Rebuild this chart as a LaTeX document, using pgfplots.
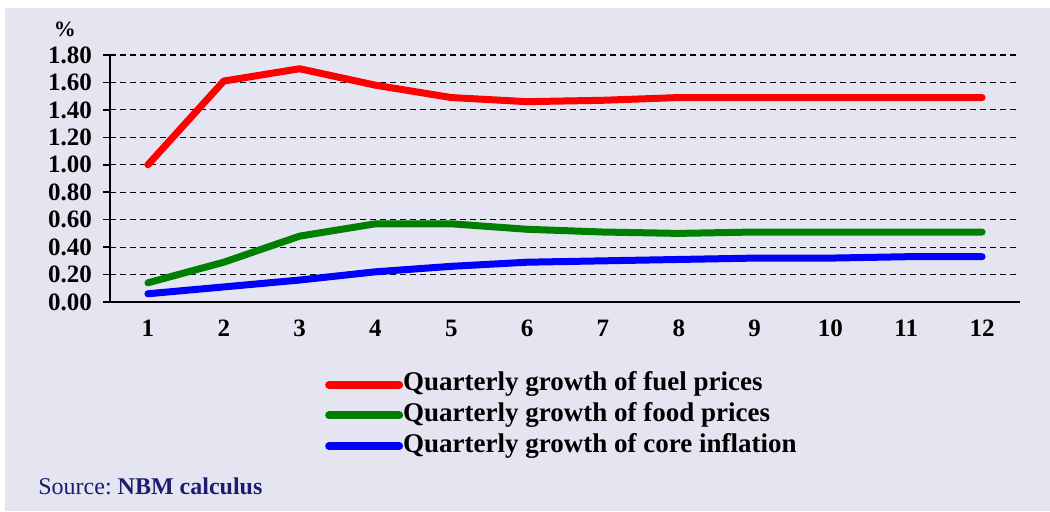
\documentclass[border=0pt]{standalone}
\usepackage{pgfplots}
\pgfplotsset{compat=1.18}
\usepackage{fontspec}
\setmainfont{Liberation Serif}
\definecolor{lav}{HTML}{E5E5F1}
\definecolor{navy}{HTML}{1C1C70}
\definecolor{fuel}{HTML}{FF0000}
\definecolor{food}{HTML}{008000}
\definecolor{core}{HTML}{0000FF}
\begin{document}
\begin{tikzpicture}[x=1pt,y=1pt]
\fill[white] (0,0) rectangle (525,255.5);
\fill[lav] (2.5,0) rectangle (525,251.5);
\begin{axis}[
  at={(55pt,104.5pt)}, anchor=south west,
  scale only axis, width=455pt, height=123.5pt,
  xmin=0.5, xmax=12.5, ymin=0, ymax=1.8,
  axis x line*=bottom, axis y line*=left,
  axis line style={-, black, line width=0.8pt},
  xtick={1,...,12},
  minor xtick={0.5,1.5,...,12.5},
  ytick={0,0.2,...,1.8},
  major tick length=3.5pt, minor tick length=3.5pt,
  tick align=outside,
  xtick style={draw=none},
  minor x tick style={black, line width=0.8pt},
  ytick style={black, line width=0.8pt},
  ymajorgrids, grid style={black, dashed, line width=0.6pt, dash pattern=on 3pt off 2pt},
  /pgf/number format/assume math mode=true,
  yticklabel style={/pgf/number format/fixed, /pgf/number format/precision=2, /pgf/number format/zerofill, xshift=-2pt},
  ticklabel style={font=\bfseries\fontsize{12.5}{15}\selectfont},
  xticklabel style={yshift=-2pt},
  clip=false,
  legend style={draw=none, fill=none, at={(0.236,-0.285)}, anchor=north west,
    inner sep=0pt, row sep=3.3pt, font=\bfseries\fontsize{13.5}{15}\selectfont,
    nodes={inner sep=0pt, text height=9pt, text depth=3pt},
    /tikz/every even column/.append style={column sep=0pt},
    cells={anchor=west}},
  legend cell align=left,
  legend image code/.code={\draw[#1, line width=4pt, line cap=round] (2pt,0pt) -- (37pt,0pt);},
]
\addplot[fuel, line width=3.5pt, line cap=round, line join=round] coordinates {
(1,1.00) (2,1.61) (3,1.70) (4,1.58) (5,1.49) (6,1.46) (7,1.47) (8,1.49) (9,1.49) (10,1.49) (11,1.49) (12,1.49)};
\addlegendentry{Quarterly growth of fuel prices}
\addplot[food, line width=3.5pt, line cap=round, line join=round] coordinates {
(1,0.14) (2,0.29) (3,0.48) (4,0.57) (5,0.57) (6,0.53) (7,0.51) (8,0.50) (9,0.51) (10,0.51) (11,0.51) (12,0.51)};
\addlegendentry{Quarterly growth of food prices}
\addplot[core, line width=3.5pt, line cap=round, line join=round] coordinates {
(1,0.06) (2,0.11) (3,0.16) (4,0.22) (5,0.26) (6,0.29) (7,0.30) (8,0.31) (9,0.32) (10,0.32) (11,0.33) (12,0.33)};
\addlegendentry{Quarterly growth of core inflation}
\node[font=\bfseries\fontsize{11}{13}\selectfont, anchor=base] at ([xshift=-22.5pt,yshift=9.5pt]rel axis cs:0,1) {\%};
\end{axis}
\node[anchor=base west, text=navy, font=\fontsize{12}{14}\selectfont, inner sep=0] at (19,8.5) {Source:\ \textbf{NBM calculus}};
\end{tikzpicture}
\end{document}
